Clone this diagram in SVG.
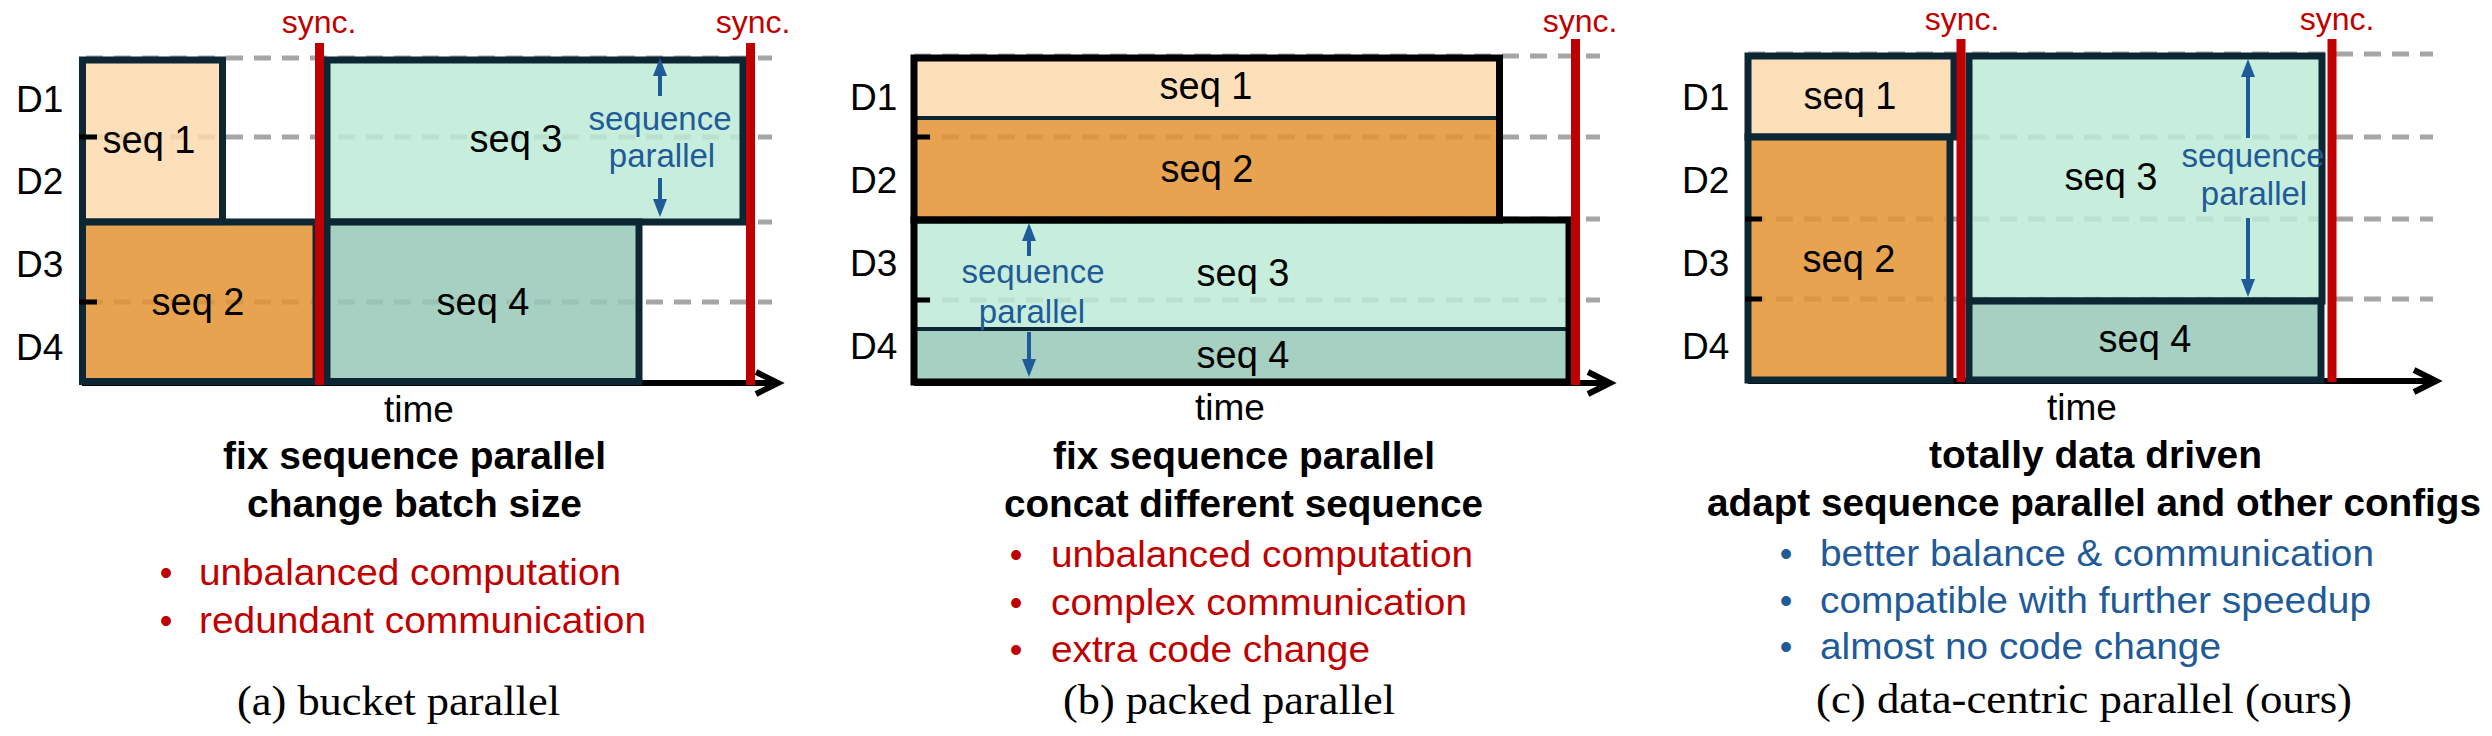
<svg xmlns="http://www.w3.org/2000/svg" width="2492" height="736" viewBox="0 0 2492 736">
<style>
text{font-family:"Liberation Sans",Arial,sans-serif;fill:#000}
.d{font-size:37px}
.seq{font-size:38px;text-anchor:middle}
.sp{font-size:33px;text-anchor:middle;fill:#1f5b99}
.sync{font-size:32px;text-anchor:middle;fill:#c00000}
.time{font-size:37px;text-anchor:middle}
.title{font-size:38px;font-weight:bold}
.bad{font-size:36px;fill:#c00000}
.good{font-size:36px;fill:#1f5b99}
.bul{text-anchor:middle}
.cap{font-family:"Liberation Serif","Times New Roman",serif;font-size:43px}
.dash{stroke:#a6a6a6;stroke-width:5;stroke-dasharray:17 11;fill:none}
.box{stroke:#0d2634;stroke-width:7;fill-opacity:0.85}
.bxk{stroke:#000;stroke-width:7;fill:none}
.div{stroke:#0d2634;stroke-width:4}
.s1{fill:#fdd9ad}
.s2{fill:#e49333}
.s3{fill:#bdebd6}
.s4{fill:#96c8b6}
.syncl{stroke:#c00000;stroke-width:9}
.axis{stroke:#000;stroke-width:6;fill:none}
.head{stroke:#000;stroke-width:6;fill:none;stroke-linecap:butt;stroke-linejoin:miter}
.tick{stroke:#000;stroke-width:5}
.par{stroke:#1f5b99;stroke-width:4;marker-end:url(#bh)}
</style>
<defs>
<marker id="bh" markerUnits="userSpaceOnUse" markerWidth="18" markerHeight="14" refX="6" refY="7" orient="auto">
<path d="M0,0 L18,7 L0,14 z" fill="#1f5b99"/>
</marker>
</defs>

<!-- background grid lines -->
<g id="grid">
<line class="dash" x1="86" y1="58" x2="772" y2="58"/>
<line class="dash" x1="86" y1="137" x2="772" y2="137"/>
<line class="dash" x1="86" y1="222" x2="772" y2="222"/>
<line class="dash" x1="86" y1="302" x2="772" y2="302"/>
<line class="dash" x1="914" y1="56" x2="1600" y2="56"/>
<line class="dash" x1="914" y1="137" x2="1600" y2="137"/>
<line class="dash" x1="914" y1="219" x2="1600" y2="219"/>
<line class="dash" x1="914" y1="300" x2="1600" y2="300"/>
<line class="dash" x1="1748" y1="54" x2="2433" y2="54"/>
<line class="dash" x1="1748" y1="137" x2="2433" y2="137"/>
<line class="dash" x1="1748" y1="219" x2="2433" y2="219"/>
<line class="dash" x1="1748" y1="299" x2="2433" y2="299"/>
</g>

<!-- axes -->
<g id="axes">
<line class="axis" x1="82" y1="383" x2="776" y2="383"/>
<polyline class="head" points="756,372 778,383 756,394"/>
<line class="axis" x1="914" y1="383" x2="1608" y2="383"/>
<polyline class="head" points="1588,372 1610,383 1588,394"/>
<line class="axis" x1="1748" y1="381" x2="2434" y2="381"/>
<polyline class="head" points="2414,370 2436,381 2414,392"/>
</g>

<!-- panel (a) bucket parallel -->
<g id="a-seq1"><rect class="box s1" x="82.5" y="60" width="140" height="162"/><text class="seq" x="149" y="153">seq 1</text></g>
<g id="a-seq2"><rect class="box s2" x="82.5" y="222" width="233.5" height="159.5"/><text class="seq" x="198" y="315">seq 2</text></g>
<g id="a-seq3"><rect class="box s3" x="327" y="60" width="416" height="162"/><text class="seq" x="516" y="152">seq 3</text></g>
<g id="a-seq4"><rect class="box s4" x="327" y="222" width="312" height="159.5"/><text class="seq" x="483" y="315">seq 4</text></g>
<g id="a-labels">
<line class="tick" x1="79" y1="137" x2="97" y2="137"/>
<line class="tick" x1="79" y1="302" x2="97" y2="302"/>
<text class="d" x="16" y="112">D1</text>
<text class="d" x="16" y="194">D2</text>
<text class="d" x="16" y="277">D3</text>
<text class="d" x="16" y="360">D4</text>
<text class="sp" x="660" y="130">sequence</text>
<text class="sp" x="662" y="167">parallel</text>
<text class="sync" x="319" y="33">sync.</text>
<text class="sync" x="753" y="33">sync.</text>
<text class="time" x="419" y="422">time</text>
</g>

<!-- panel (b) packed parallel -->
<g id="b-seq1"><rect class="s1" fill-opacity="0.85" x="914" y="58" width="585.5" height="60"/><text class="seq" x="1206" y="99">seq 1</text></g>
<g id="b-seq2"><rect class="s2" fill-opacity="0.85" x="914" y="118" width="585.5" height="102"/><text class="seq" x="1207" y="182">seq 2</text></g>
<g id="b-seq3"><rect class="s3" fill-opacity="0.85" x="914" y="220" width="655" height="109"/><text class="seq" x="1243" y="286">seq 3</text></g>
<g id="b-seq4"><rect class="s4" fill-opacity="0.85" x="914" y="329" width="655" height="53"/><text class="seq" x="1243" y="368">seq 4</text></g>
<g id="b-frames">
<line class="div" x1="914" y1="118" x2="1499" y2="118"/>
<line class="div" x1="914" y1="329" x2="1569" y2="329"/>
<rect class="bxk" x="914" y="58" width="585.5" height="162"/>
<rect class="bxk" x="914" y="220" width="655" height="162"/>
</g>
<g id="b-labels">
<line class="tick" x1="911" y1="137" x2="930" y2="137"/>
<line class="tick" x1="911" y1="300" x2="930" y2="300"/>
<text class="d" x="850" y="110">D1</text>
<text class="d" x="850" y="193">D2</text>
<text class="d" x="850" y="276">D3</text>
<text class="d" x="850" y="359">D4</text>
<text class="sp" x="1033" y="283">sequence</text>
<text class="sp" x="1032" y="323">parallel</text>
<text class="sync" x="1580" y="32">sync.</text>
<text class="time" x="1230" y="420">time</text>
</g>

<!-- panel (c) data-centric parallel -->
<g id="c-seq1"><rect class="box s1" x="1748" y="56" width="206" height="81"/><text class="seq" x="1850" y="109">seq 1</text></g>
<g id="c-seq2"><rect class="box s2" x="1748" y="137" width="202" height="243"/><text class="seq" x="1849" y="272">seq 2</text></g>
<g id="c-seq3"><rect class="box s3" x="1969" y="56" width="353" height="245"/><text class="seq" x="2111" y="190">seq 3</text></g>
<g id="c-seq4"><rect class="box s4" x="1969" y="301" width="352" height="79"/><text class="seq" x="2145" y="352">seq 4</text></g>
<g id="c-labels">
<line class="tick" x1="1745" y1="219" x2="1762" y2="219"/>
<line class="tick" x1="1745" y1="299" x2="1762" y2="299"/>
<text class="d" x="1682" y="110">D1</text>
<text class="d" x="1682" y="193">D2</text>
<text class="d" x="1682" y="276">D3</text>
<text class="d" x="1682" y="359">D4</text>
<text class="sp" x="2253" y="167">sequence</text>
<text class="sp" x="2254" y="205">parallel</text>
<text class="sync" x="1962" y="30">sync.</text>
<text class="sync" x="2337" y="30">sync.</text>
<text class="time" x="2082" y="420">time</text>
</g>

<!-- connectors: sync barriers and sequence-parallel arrows -->
<g id="connectors">
<line class="syncl" x1="319.5" y1="43" x2="319.5" y2="385"/>
<line class="syncl" x1="750.5" y1="43" x2="750.5" y2="385"/>
<line class="syncl" x1="1575.5" y1="39" x2="1575.5" y2="385"/>
<line class="syncl" x1="1961" y1="39" x2="1961" y2="382" stroke-width="10"/>
<line class="syncl" x1="2332" y1="39" x2="2332" y2="382" stroke-width="10"/>
<line class="par" x1="660" y1="96" x2="660" y2="70"/>
<line class="par" x1="660" y1="178" x2="660" y2="205"/>
<line class="par" x1="1029" y1="256" x2="1029" y2="235"/>
<line class="par" x1="1029" y1="332" x2="1029" y2="365"/>
<line class="par" x1="2248" y1="138" x2="2248" y2="71"/>
<line class="par" x1="2248" y1="218" x2="2248" y2="285"/>
</g>

<!-- descriptions -->
<g id="a-text">
<text class="title" x="223" y="469" textLength="383" lengthAdjust="spacingAndGlyphs">fix sequence parallel</text>
<text class="title" x="247" y="517" textLength="335" lengthAdjust="spacingAndGlyphs">change batch size</text>
<text class="bad bul" x="166" y="585">•</text>
<text class="bad" x="199" y="585" textLength="422" lengthAdjust="spacingAndGlyphs">unbalanced computation</text>
<text class="bad bul" x="166" y="633">•</text>
<text class="bad" x="199" y="633" textLength="447" lengthAdjust="spacingAndGlyphs">redundant communication</text>
<text class="cap" x="237" y="715" textLength="323" lengthAdjust="spacingAndGlyphs">(a) bucket parallel</text>
</g>
<g id="b-text">
<text class="title" x="1053" y="469" textLength="382" lengthAdjust="spacingAndGlyphs">fix sequence parallel</text>
<text class="title" x="1004" y="517" textLength="479" lengthAdjust="spacingAndGlyphs">concat different sequence</text>
<text class="bad bul" x="1016" y="567">•</text>
<text class="bad" x="1051" y="567" textLength="422" lengthAdjust="spacingAndGlyphs">unbalanced computation</text>
<text class="bad bul" x="1016" y="615">•</text>
<text class="bad" x="1051" y="615" textLength="416" lengthAdjust="spacingAndGlyphs">complex communication</text>
<text class="bad bul" x="1016" y="662">•</text>
<text class="bad" x="1051" y="662" textLength="319" lengthAdjust="spacingAndGlyphs">extra code change</text>
<text class="cap" x="1063" y="714" textLength="332" lengthAdjust="spacingAndGlyphs">(b) packed parallel</text>
</g>
<g id="c-text">
<text class="title" x="1929" y="468" textLength="333" lengthAdjust="spacingAndGlyphs">totally data driven</text>
<text class="title" x="1707" y="516" textLength="774" lengthAdjust="spacingAndGlyphs">adapt sequence parallel and other configs</text>
<text class="good bul" x="1786" y="566">•</text>
<text class="good" x="1820" y="566" textLength="554" lengthAdjust="spacingAndGlyphs">better balance &amp; communication</text>
<text class="good bul" x="1786" y="613">•</text>
<text class="good" x="1820" y="613" textLength="551" lengthAdjust="spacingAndGlyphs">compatible with further speedup</text>
<text class="good bul" x="1786" y="659">•</text>
<text class="good" x="1820" y="659" textLength="401" lengthAdjust="spacingAndGlyphs">almost no code change</text>
<text class="cap" x="1816" y="713" textLength="536" lengthAdjust="spacingAndGlyphs">(c) data-centric parallel (ours)</text>
</g>
</svg>
